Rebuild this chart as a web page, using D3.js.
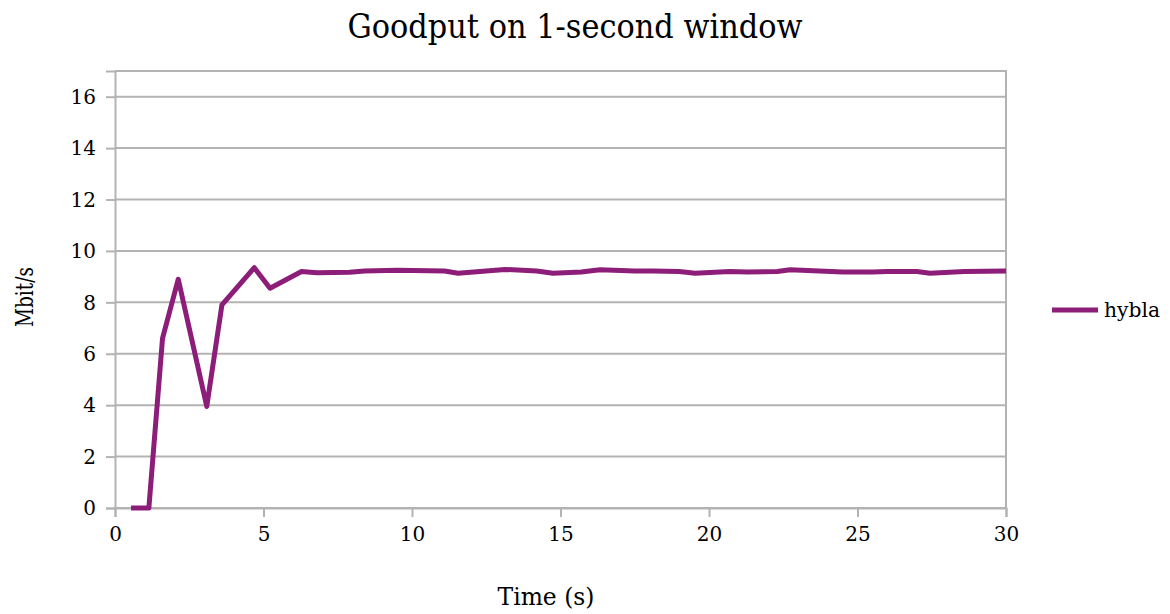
<!DOCTYPE html>
<html>
<head>
<meta charset="utf-8">
<script src="https://cdn.jsdelivr.net/npm/d3@7"></script>
<style>
  body { margin: 0; background: #fff; }
</style>
</head>
<body>
<div id="chart"></div>
<script>
const title = "Goodput on 1-second window";
const seriesName = "hybla";
const times = [0.54, 1.14, 1.6, 2.13, 3.09, 3.6, 4.69, 5.22, 6.28, 6.8, 7.9, 8.4, 9.5, 11.1, 11.55,
  13.13, 14.2, 14.75, 15.7, 16.33, 17.5, 18.1, 19.0, 19.53, 20.7, 21.3, 22.3, 22.73, 24.5, 25.5,
  26.0, 27.0, 27.44, 28.6, 30.0];
const goodput = [0, 0, 6.6, 8.9, 3.95, 7.9, 9.35, 8.55, 9.2, 9.15, 9.17, 9.22, 9.25, 9.22, 9.13,
  9.28, 9.22, 9.13, 9.18, 9.27, 9.22, 9.22, 9.2, 9.13, 9.2, 9.18, 9.2, 9.27, 9.18, 9.18,
  9.2, 9.2, 9.13, 9.2, 9.22];
const xTicks = [0, 5, 10, 15, 20, 25, 30];
const yTicks = [0, 2, 4, 6, 8, 10, 12, 14, 16];

const W = 1170, H = 614;
const margin = { top: 71, right: 164, bottom: 106, left: 115 };
const width = W - margin.left - margin.right;
const height = H - margin.top - margin.bottom;
const serif = "DejaVu Serif";

const root = d3.select("#chart").append("svg")
  .attr("width", W)
  .attr("height", H);

const svg = root.append("g")
  .attr("transform", `translate(${margin.left},${margin.top})`);

// Scales
const x = d3.scaleLinear().domain([0, 30]).range([0, width]);
const y = d3.scaleLinear().domain([0, 17]).range([height, 0]);

const gridColor = "#b3b3b3";

// Grid lines
svg.selectAll(".grid")
  .data(yTicks)
  .enter()
  .append("line")
  .attr("x1", 0)
  .attr("x2", width)
  .attr("y1", d => y(d))
  .attr("y2", d => y(d))
  .attr("stroke", gridColor)
  .attr("stroke-width", 2);

// Plot border (top and right)
svg.append("path")
  .attr("d", `M0,0H${width}V${height}`)
  .attr("fill", "none")
  .attr("stroke", gridColor)
  .attr("stroke-width", 2);

// Axes
const xAxis = svg.append("g")
  .attr("transform", `translate(0,${height})`)
  .call(d3.axisBottom(x).tickValues(xTicks).tickSize(9).tickPadding(10));

const yAxis = svg.append("g")
  .call(d3.axisLeft(y).tickValues(yTicks).tickSize(9).tickPadding(10));

[xAxis, yAxis].forEach(a => {
  a.attr("font-family", serif).attr("font-size", 20);
  a.select(".domain").attr("stroke", gridColor).attr("stroke-width", 2);
  a.selectAll(".tick line").attr("stroke", gridColor).attr("stroke-width", 2);
  a.selectAll(".tick text").attr("fill", "#000");
});
yAxis.selectAll(".tick text").attr("dy", "0.34em");

// Line
const color = "#8c1d78";
svg.append("path")
  .datum(times.map((t, i) => [t, goodput[i]]))
  .attr("fill", "none")
  .attr("stroke", color)
  .attr("stroke-width", 5)
  .attr("stroke-linejoin", "round")
  .attr("d", d3.line().x(d => x(d[0])).y(d => y(d[1])));

// Title
root.append("text")
  .attr("x", 575)
  .attr("y", 38)
  .attr("text-anchor", "middle")
  .attr("font-family", serif)
  .attr("font-size", 34)
  .attr("textLength", 455)
  .attr("lengthAdjust", "spacingAndGlyphs")
  .text(title);

// Axis titles
root.append("text")
  .attr("x", 546)
  .attr("y", 605)
  .attr("text-anchor", "middle")
  .attr("font-family", serif)
  .attr("font-size", 24)
  .attr("textLength", 97)
  .attr("lengthAdjust", "spacingAndGlyphs")
  .text("Time (s)");

root.append("text")
  .attr("transform", "rotate(-90)")
  .attr("x", -297)
  .attr("y", 33)
  .attr("text-anchor", "middle")
  .attr("font-family", serif)
  .attr("font-size", 24)
  .attr("textLength", 60)
  .attr("lengthAdjust", "spacingAndGlyphs")
  .text("Mbit/s");

// Legend
const legend = root.append("g").attr("transform", "translate(1052,310)");
legend.append("line")
  .attr("x1", 0).attr("x2", 46)
  .attr("stroke", color)
  .attr("stroke-width", 5);
legend.append("text")
  .attr("x", 52)
  .attr("dy", "0.32em")
  .attr("font-family", serif)
  .attr("font-size", 21)
  .attr("textLength", 56)
  .attr("lengthAdjust", "spacingAndGlyphs")
  .text(seriesName);
</script>
</body>
</html>
